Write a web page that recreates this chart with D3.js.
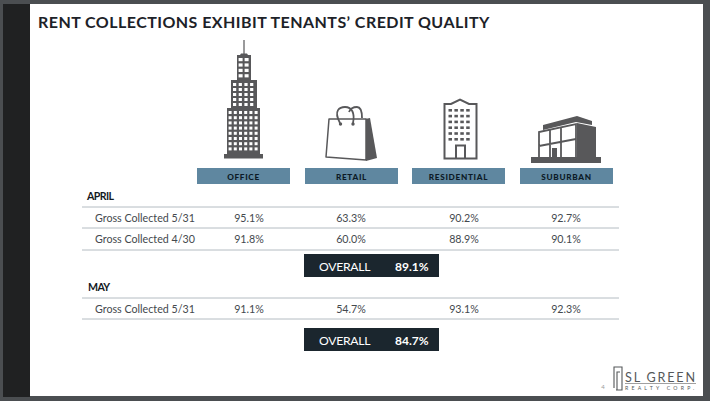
<!DOCTYPE html>
<html>
<head>
<meta charset="utf-8">
<script src="https://cdn.jsdelivr.net/npm/d3@7"></script>
<style>
html, body { margin: 0; padding: 0; background: #fff; overflow: hidden; }
svg { display: block; }
text { font-family: Lato, "Open Sans", sans-serif; }
</style>
</head>
<body>
<svg id="canvas" width="710" height="401"></svg>
<script>
// Data
const categories = ['OFFICE', 'RETAIL', 'RESIDENTIAL', 'SUBURBAN'];
const rowLabels = ['Gross Collected 5/31', 'Gross Collected 4/30', 'Gross Collected 5/31'];
const april531 = ['95.1%', '63.3%', '90.2%', '92.7%'];
const april430 = ['91.8%', '60.0%', '88.9%', '90.1%'];
const may531 = ['91.1%', '54.7%', '93.1%', '92.3%'];
const overallValues = ['89.1%', '84.7%'];

const svg = d3.select('#canvas');
const dark = '#1b262e';
const iconGrey = '#58585a';

// Slide frame
svg.append('rect').attr('width', 710).attr('height', 401).attr('fill', '#4b4e51');
svg.append('rect').attr('x', 3).attr('y', 4).attr('width', 27).attr('height', 393).attr('fill', '#202122');
svg.append('rect').attr('x', 30).attr('y', 4).attr('width', 673).attr('height', 392).attr('fill', '#fff');

svg.append('text')
  .attr('x', 38).attr('y', 28)
  .attr('font-size', 16).attr('font-weight', 700)
  .attr('letter-spacing', 0.45)
  .attr('fill', '#1d2228')
  .text('RENT COLLECTIONS EXHIBIT TENANTS\u2019 CREDIT QUALITY');

// Column positions
const headerX = d3.scaleOrdinal().domain(categories).range([197, 305, 412, 520]);
const valueX = d3.scaleOrdinal().domain(categories).range([249, 351, 464, 566]);

// Headers
const headers = svg.append('g').selectAll('g').data(categories).join('g')
  .attr('transform', d => `translate(${headerX(d)},168)`);
headers.append('rect')
  .attr('width', 93).attr('height', 16).attr('fill', '#5f87a0');
headers.append('text')
  .attr('x', 46.5).attr('y', 11.5)
  .attr('text-anchor', 'middle')
  .attr('font-size', 8.2).attr('font-weight', 900)
  .attr('letter-spacing', 0.7)
  .attr('fill', '#0c1a26')
  .text(d => d);

// Table rows
const rows = [
  { y: 207, label: rowLabels[0], values: april531 },
  { y: 228, label: rowLabels[1], values: april430 },
  { y: 298, label: rowLabels[2], values: may531 }
];

function rule(y) {
  svg.append('line')
    .attr('x1', 82).attr('x2', 619)
    .attr('y1', y).attr('y2', y)
    .attr('stroke', '#b4bcc2').attr('stroke-width', 1);
}
[207, 228, 250, 298, 319].forEach(rule);

rows.forEach(r => {
  svg.append('text')
    .attr('x', 95).attr('y', r.y + 14.5)
    .attr('font-size', 10.7).attr('fill', '#44494e')
    .text(r.label);
  svg.selectAll(null).data(r.values).join('text')
    .attr('x', (d, i) => valueX(categories[i]))
    .attr('y', r.y + 14.5)
    .attr('text-anchor', 'middle')
    .attr('font-size', 10.7).attr('fill', '#44494e')
    .text(d => d);
});

// Section labels
[['APRIL', 87, 200], ['MAY', 88, 291]].forEach(([t, x, y]) => {
  svg.append('text')
    .attr('x', x).attr('y', y)
    .attr('font-size', 10.6).attr('font-weight', 700)
    .attr('letter-spacing', -0.6)
    .attr('fill', '#14191e')
    .text(t);
});

// Overall boxes
[254, 328].forEach((y, i) => {
  const g = svg.append('g').attr('transform', `translate(304,${y})`);
  g.append('rect').attr('width', 135).attr('height', 23).attr('fill', dark);
  g.append('text').attr('x', 15).attr('y', 17)
    .attr('font-size', 12.2).attr('fill', '#fff').attr('letter-spacing', -0.3)
    .text('OVERALL');
  g.append('text').attr('x', 91).attr('y', 17)
    .attr('font-size', 12).attr('font-weight', 700).attr('fill', '#fff')
    .text(overallValues[i]);
});

// Draws a grid of small windows
function windows(g, x0, y0, cols, rowsN, w, h, dx, dy, fill) {
  d3.cross(d3.range(cols), d3.range(rowsN)).forEach(([c, r]) => {
    g.append('rect')
      .attr('x', x0 + c * dx).attr('y', y0 + r * dy)
      .attr('width', w).attr('height', h).attr('fill', fill);
  });
}

// Office tower
const office = svg.append('g');
office.append('rect').attr('x', 243.4).attr('y', 40).attr('width', 1.2).attr('height', 15).attr('fill', iconGrey);
office.append('path').attr('d', 'M240,55 L241,53.5 H247 L248,55 Z').attr('fill', iconGrey);
office.append('rect').attr('x', 237).attr('y', 55).attr('width', 14).attr('height', 26).attr('fill', iconGrey);
office.append('rect').attr('x', 231).attr('y', 80).attr('width', 26).attr('height', 29).attr('fill', iconGrey);
office.append('rect').attr('x', 227).attr('y', 108).attr('width', 33).attr('height', 47).attr('fill', iconGrey);
office.append('rect').attr('x', 224).attr('y', 154).attr('width', 39).attr('height', 4.5).attr('fill', iconGrey);
windows(office, 238.6, 58, 2, 4, 4, 3.2, 6, 5.4, '#fff');
windows(office, 233, 83, 4, 5, 3.2, 3, 5.7, 5, '#fff');
windows(office, 228.6, 111, 6, 8, 3, 3, 5.2, 5.2, '#fff');

// Shopping bag
const bag = svg.append('g');
bag.append('path').attr('d', 'M365,119 L370,118 L377,158 L366,161 Z').attr('fill', iconGrey);
bag.append('path')
  .attr('d', 'M329,119 H366 L366,160 L326,157 Z')
  .attr('fill', '#fff').attr('stroke', iconGrey).attr('stroke-width', 1.5).attr('stroke-linejoin', 'round');
bag.append('path')
  .attr('d', 'M340,123 C333,110 340,107 345,107 C352,107 355,113 353,123')
  .attr('fill', 'none').attr('stroke', iconGrey).attr('stroke-width', 1.8);
bag.append('path')
  .attr('d', 'M349,112 C351,107 355,107 357,107 C361,107 362,112 362,118')
  .attr('fill', 'none').attr('stroke', iconGrey).attr('stroke-width', 1.8);
bag.append('circle').attr('cx', 340.5).attr('cy', 124).attr('r', 1.7).attr('fill', iconGrey);
bag.append('circle').attr('cx', 353).attr('cy', 124).attr('r', 1.7).attr('fill', iconGrey);

// Residential block
const res = svg.append('g');
res.append('path')
  .attr('d', 'M444.5,158.5 V104 H451 L460,99.5 L469,104 H476.5 V158.5 Z')
  .attr('fill', '#fff').attr('stroke', iconGrey).attr('stroke-width', 2);
windows(res, 448.5, 109, 4, 6, 3.5, 2.6, 5.9, 5.8, iconGrey);
res.append('path')
  .attr('d', 'M456,158 V145.5 H465 V158')
  .attr('fill', 'none').attr('stroke', iconGrey).attr('stroke-width', 2);

// Suburban office
const sub = svg.append('g');
sub.append('rect').attr('x', 531).attr('y', 157).attr('width', 70).attr('height', 6).attr('fill', iconGrey);
sub.append('path').attr('d', 'M543,125 L577,116 L592,121 V125 L576,122 L543,130 Z').attr('fill', iconGrey);
sub.append('path').attr('d', 'M577,123 L596,127 V157 H577 Z').attr('fill', iconGrey);
sub.append('path')
  .attr('d', 'M539,157 V132 L576,124 V157 M539,146 L576,139 M550,130 V157 M561,127 V157')
  .attr('fill', 'none').attr('stroke', iconGrey).attr('stroke-width', 1.8);
sub.append('rect').attr('x', 552).attr('y', 148).attr('width', 5).attr('height', 9).attr('fill', iconGrey);

// Footer logo
svg.append('text').attr('x', 603).attr('y', 389)
  .attr('text-anchor', 'middle').attr('font-size', 6).attr('fill', '#9a9a9a').text('4');
svg.append('path')
  .attr('d', 'M616,390 H622 V367 H614 V388 M617,390 V372 H620')
  .attr('fill', 'none').attr('stroke', '#55585a').attr('stroke-width', 1.1);
svg.append('text').attr('x', 625).attr('y', 382)
  .attr('font-size', 12.6).attr('fill', '#55585a').attr('letter-spacing', 1.8).text('SL GREEN');
svg.append('line').attr('x1', 625).attr('x2', 696).attr('y1', 383.5).attr('y2', 383.5)
  .attr('stroke', '#777').attr('stroke-width', 0.7);
svg.append('text').attr('x', 625).attr('y', 390)
  .attr('font-size', 5.2).attr('fill', '#55585a').attr('letter-spacing', 3.2).text('REALTY CORP.');
</script>
</body>
</html>
